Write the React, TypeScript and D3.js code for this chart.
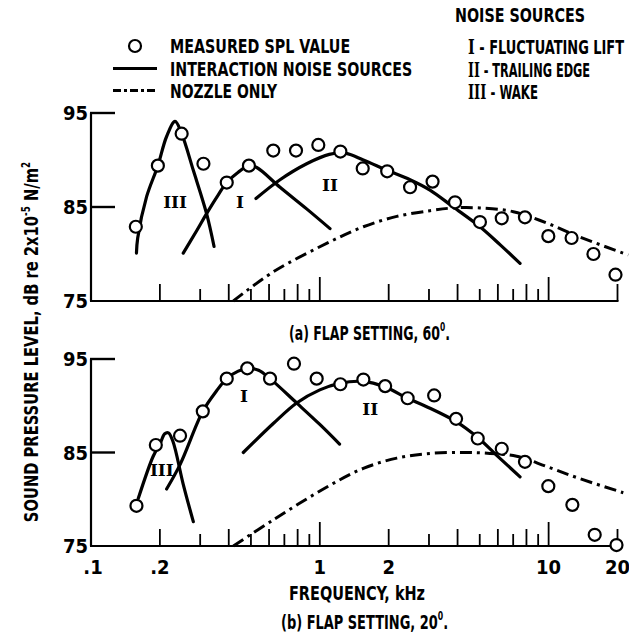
import React, { useLayoutEffect, useRef, useState } from "react";
import * as d3 from "d3";

// ---------- data ----------
const xLabelValues = [0.1, 0.2, 1, 2, 10, 20];
const xLabelTexts = [".1", ".2", "1", "2", "10", "20"];
const majorTicks = [1, 10];
const evenTicks = [0.2, 0.4, 0.6, 0.8, 2, 4, 6, 8, 20];
const oddTicks = [0.3, 0.5, 0.7, 0.9, 3, 5, 7, 9];
const yTickValues = [95, 85, 75];

// (a) flap 60
const topMeasuredFreq = [0.157, 0.196, 0.249, 0.31, 0.392, 0.49, 0.626, 0.787, 0.985, 1.23, 1.54, 1.97, 2.48, 3.11, 3.9, 5.01, 6.24, 7.88, 9.97, 12.6, 15.7, 19.6];
const topMeasuredDb = [82.9, 89.4, 92.8, 89.6, 87.6, 89.4, 91.0, 91.0, 91.6, 90.9, 89.1, 88.8, 87.1, 87.7, 85.5, 83.4, 83.8, 83.9, 81.9, 81.7, 80.0, 77.8];
const topWakeFreq = [0.158, 0.16, 0.175, 0.196, 0.214, 0.233, 0.249, 0.28, 0.32, 0.345];
const topWakeDb = [80.1, 81.7, 86.1, 89.4, 92.5, 94.1, 92.8, 88.9, 84.3, 80.8];
const topLiftFreq = [0.253, 0.29, 0.32, 0.36, 0.392, 0.44, 0.49, 0.53, 0.67, 0.876, 1.108];
const topLiftDb = [80.1, 82.5, 84.3, 86.3, 87.6, 88.7, 89.4, 89.2, 87.1, 84.8, 82.7];
const topEdgeFreq = [0.526, 0.67, 0.876, 1.1, 1.3, 1.55, 1.97, 2.48, 3.03, 3.83, 5.01, 6.13, 7.5];
const topEdgeDb = [85.9, 87.9, 89.6, 90.6, 90.7, 90.0, 88.9, 87.9, 86.8, 85.0, 82.9, 81.0, 79.0];
const topNozzleFreq = [0.419, 0.626, 1.108, 1.55, 2.17, 3.03, 3.83, 5.01, 7.01, 9.8, 13.7, 22.3];
const topNozzleDb = [75.0, 78.1, 81.3, 82.9, 84.0, 84.6, 84.9, 84.9, 84.5, 83.3, 81.8, 79.9];
const topLabelTexts = ["III", "I", "II"];
const topLabelFreq = [0.233, 0.448, 1.108];
const topLabelDb = [85.5, 85.5, 87.3];

// (b) flap 20
const botMeasuredFreq = [0.158, 0.192, 0.245, 0.308, 0.392, 0.482, 0.606, 0.771, 0.969, 1.23, 1.55, 1.93, 2.42, 3.16, 3.94, 4.9, 6.24, 7.88, 9.97, 12.7, 15.9, 19.8];
const botMeasuredDb = [79.3, 85.8, 86.8, 89.4, 92.9, 94.0, 92.9, 94.5, 92.9, 92.3, 92.8, 92.1, 90.8, 91.1, 88.6, 86.5, 85.4, 84.0, 81.4, 79.4, 76.2, 75.1];
const botWakeFreq = [0.161, 0.187, 0.2, 0.21, 0.218, 0.228, 0.253, 0.28];
const botWakeDb = [80.1, 84.6, 85.9, 87.0, 87.1, 86.2, 81.6, 77.6];
const botLiftFreq = [0.214, 0.245, 0.308, 0.354, 0.392, 0.44, 0.49, 0.54, 0.606, 0.792, 1.0, 1.22];
const botLiftDb = [81.1, 83.7, 89.4, 91.6, 92.9, 93.7, 94.0, 93.8, 92.9, 90.3, 88.0, 85.9];
const botEdgeFreq = [0.463, 0.626, 0.792, 1.0, 1.22, 1.55, 1.93, 2.42, 2.93, 3.94, 4.9, 5.93, 7.5];
const botEdgeDb = [85.0, 88.1, 90.3, 91.7, 92.4, 92.6, 92.0, 90.8, 89.9, 88.3, 86.6, 84.7, 82.4];
const botNozzleFreq = [0.419, 0.626, 1.108, 1.55, 2.17, 3.03, 4.24, 5.54, 7.25, 9.8, 13.7, 21.2];
const botNozzleDb = [75.0, 77.8, 81.5, 83.3, 84.4, 84.9, 85.0, 84.9, 84.6, 83.5, 82.2, 80.7];
const botLabelTexts = ["III", "I", "II"];
const botLabelFreq = [0.204, 0.466, 1.66];
const botLabelDb = [83.1, 91.0, 89.6];

// ---------- layout ----------
const W = 629;
const H = 642;
const SANS = "'Liberation Sans Narrow', 'DejaVu Sans Condensed', 'Arial Narrow', sans-serif";
const SERIF = "'DejaVu Serif', 'Liberation Serif', serif";
const DASH = "12 5 3 5";

const x = d3.scaleLog().domain([0.1, 20]).range([91, 617.5]);

const zip = (f: number[], v: number[]) => f.map((d, i) => [d, v[i]] as [number, number]);

// text squeezed horizontally to a given width (via transform so its box is true)
function FitText(props: {
  x: number; y: number; width: number; anchor?: string; rotate?: number; size?: number; children: React.ReactNode;
}) {
  const ref = useRef<SVGTextElement>(null);
  const [s, setS] = useState(0.75);
  useLayoutEffect(() => {
    if (ref.current) {
      const n = ref.current.getComputedTextLength();
      if (n > 0) setS(props.width / n);
    }
  }, [props.width]);
  const rot = props.rotate ? ` rotate(${props.rotate})` : "";
  return (
    <text
      ref={ref}
      transform={`translate(${props.x},${props.y})${rot} scale(${s},1)`}
      textAnchor={props.anchor || "start"}
      fontFamily={SANS}
      fontWeight="bold"
      fontSize={props.size || 20}
    >
      {props.children}
    </text>
  );
}

type PanelProps = {
  y0: number;
  y1: number;
  mFreq: number[]; mDb: number[];
  curves: [number[], number[]][];
  nFreq: number[]; nDb: number[];
  lTexts: string[]; lFreq: number[]; lDb: number[];
  showXLabels: boolean;
};

function Panel(p: PanelProps) {
  const y = d3.scaleLinear().domain([75, 95]).range([p.y1, p.y0]);
  const line = d3
    .line<[number, number]>()
    .x((d) => x(d[0]))
    .y((d) => y(d[1]))
    .curve(d3.curveCatmullRom.alpha(0.5));
  const base = y(75);
  const tickGroups: [number[], number][] = [
    [majorTicks, 24],
    [evenTicks, 17],
    [oddTicks, 12],
  ];
  return (
    <g>
      <line x1={x(0.1)} x2={x(0.1)} y1={y(95)} y2={base} stroke="#000" strokeWidth={2.2} />
      <line x1={x(0.1) - 1} x2={x(20) + 1} y1={base} y2={base} stroke="#000" strokeWidth={2.2} />
      {yTickValues.filter((v) => v !== 75).map((v) => (
        <line key={v} x1={x(0.1) - 1} x2={x(0.1) + 24} y1={y(v)} y2={y(v)} stroke="#000" strokeWidth={2.4} />
      ))}
      {yTickValues.map((v) => (
        <text key={"yl" + v} x={88} y={y(v)} dy="0.36em" textAnchor="end" fontFamily={SANS} fontWeight="bold" fontSize={20}>
          {v}
        </text>
      ))}
      {tickGroups.map(([vals, len]) =>
        vals.map((v) => (
          <line key={"t" + v} x1={x(v)} x2={x(v)} y1={base} y2={base - len} stroke="#000" strokeWidth={1.8} />
        ))
      )}
      {p.showXLabels &&
        xLabelValues.map((v, i) => (
          <text key={"xl" + v} x={x(v) + (i === 0 ? 2 : 0)} y={574} textAnchor="middle" fontFamily={SANS} fontWeight="bold" fontSize={20}>
            {xLabelTexts[i]}
          </text>
        ))}
      <path d={line(zip(p.nFreq, p.nDb)) || ""} fill="none" stroke="#000" strokeWidth={3} strokeDasharray={DASH} />
      {p.curves.map(([f, v], i) => (
        <path key={"c" + i} d={line(zip(f, v)) || ""} fill="none" stroke="#000" strokeWidth={3.2} strokeLinecap="round" />
      ))}
      {p.lTexts.map((t, i) => (
        <text key={"lab" + i} x={x(p.lFreq[i])} y={y(p.lDb[i])} dy="0.35em" textAnchor="middle" fontFamily={SERIF} fontWeight="bold" fontSize={17}>
          {t}
        </text>
      ))}
      {p.mFreq.map((f, i) => (
        <circle key={"m" + i} cx={x(f)} cy={y(p.mDb[i])} r={6} fill="#fff" stroke="#000" strokeWidth={2.2} />
      ))}
    </g>
  );
}

export default function App() {
  return (
    <svg width={W} height={H} style={{ position: "absolute", left: 0, top: 0, background: "#fff" }}>
      <rect width={W} height={H} fill="#fff" />
      <circle cx={135} cy={46} r={6} fill="#fff" stroke="#000" strokeWidth={2.2} />
      <line x1={113} x2={157} y1={68.5} y2={68.5} stroke="#000" strokeWidth={3.2} />
      <line x1={113} x2={157} y1={90.5} y2={90.5} stroke="#000" strokeWidth={3} strokeDasharray="8 3 3 3" />

      <FitText x={170} y={53} width={180}>MEASURED SPL VALUE</FitText>
      <FitText x={170} y={76} width={242}>INTERACTION NOISE SOURCES</FitText>
      <FitText x={170} y={98} width={107}>NOZZLE ONLY</FitText>
      <FitText x={455} y={22} width={130}>NOISE SOURCES</FitText>
      <FitText x={468} y={54} width={156}>
        <tspan fontFamily={SERIF}>I</tspan> - FLUCTUATING LIFT
      </FitText>
      <FitText x={468} y={77} width={122}>
        <tspan fontFamily={SERIF}>II</tspan> - TRAILING EDGE
      </FitText>
      <FitText x={468} y={99} width={70}>
        <tspan fontFamily={SERIF}>III</tspan> - WAKE
      </FitText>

      <Panel
        y0={113}
        y1={301}
        mFreq={topMeasuredFreq}
        mDb={topMeasuredDb}
        curves={[
          [topWakeFreq, topWakeDb],
          [topLiftFreq, topLiftDb],
          [topEdgeFreq, topEdgeDb],
        ]}
        nFreq={topNozzleFreq}
        nDb={topNozzleDb}
        lTexts={topLabelTexts}
        lFreq={topLabelFreq}
        lDb={topLabelDb}
        showXLabels={false}
      />
      <Panel
        y0={359}
        y1={546}
        mFreq={botMeasuredFreq}
        mDb={botMeasuredDb}
        curves={[
          [botWakeFreq, botWakeDb],
          [botLiftFreq, botLiftDb],
          [botEdgeFreq, botEdgeDb],
        ]}
        nFreq={botNozzleFreq}
        nDb={botNozzleDb}
        lTexts={botLabelTexts}
        lFreq={botLabelFreq}
        lDb={botLabelDb}
        showXLabels={true}
      />

      <FitText x={289} y={340} width={161}>
        (a) FLAP SETTING, 60<tspan fontSize={12} dy={-9}>0</tspan><tspan dy={9}>.</tspan>
      </FitText>
      <FitText x={357} y={600} width={136} anchor="middle">FREQUENCY, kHz</FitText>
      <FitText x={281} y={629} width={167}>
        (b) FLAP SETTING, 20<tspan fontSize={12} dy={-9}>0</tspan><tspan dy={9}>.</tspan>
      </FitText>
      <FitText x={38} y={342} width={360} anchor="middle" rotate={-90}>
        SOUND PRESSURE LEVEL, dB re 2x10<tspan fontSize={12} dy={-8}>-5</tspan>
        <tspan dy={8}> N/m</tspan>
        <tspan fontSize={12} dy={-8}>2</tspan>
      </FitText>
    </svg>
  );
}
